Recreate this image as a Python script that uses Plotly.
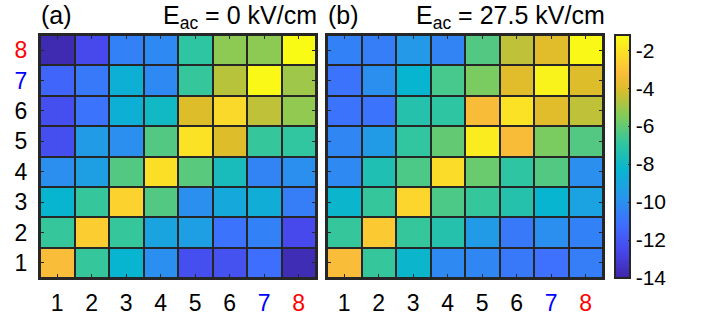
import plotly.graph_objects as go

levels = [1, 2, 3, 4, 5, 6, 7, 8]
tick_text = ["1", "2", "3", "4", "5", "6",
             "<span style='color:blue'>7</span>",
             "<span style='color:red'>8</span>"]

# rows listed from level 1 (bottom) to level 8 (top), columns 1..8
z_a = [
    [-3.2, -6.8, -8.3, -10.0, -12.3, -12.2, -11.2, -13.7],
    [-6.8, -2.7, -6.8, -9.1, -9.3, -11.0, -10.5, -12.5],
    [-8.3, -6.8, -2.5, -6.3, -10.0, -8.9, -8.7, -10.6],
    [-10.0, -9.3, -6.3, -2.1, -6.2, -7.7, -10.4, -10.0],
    [-12.3, -9.5, -10.0, -6.3, -2.0, -4.0, -6.8, -6.9],
    [-12.3, -11.0, -8.6, -8.0, -4.0, -2.3, -4.5, -5.2],
    [-11.5, -10.8, -8.6, -10.2, -6.8, -4.6, -1.3, -5.0],
    [-13.8, -12.5, -10.5, -10.2, -7.0, -5.3, -5.3, -1.2],
]
z_b = [
    [-3.2, -6.8, -8.2, -10.2, -10.3, -10.8, -11.1, -10.6],
    [-6.8, -2.8, -6.8, -7.3, -9.5, -10.8, -10.0, -10.5],
    [-8.2, -6.8, -2.4, -6.4, -6.8, -7.3, -8.3, -9.2],
    [-10.2, -7.5, -6.4, -2.2, -5.9, -7.0, -6.3, -10.0],
    [-10.3, -9.5, -6.9, -6.0, -1.7, -3.3, -5.6, -6.3],
    [-11.0, -11.0, -7.3, -7.0, -3.3, -2.0, -3.9, -4.5],
    [-11.0, -10.0, -8.3, -6.5, -5.6, -3.9, -1.5, -4.0],
    [-10.5, -10.6, -9.6, -10.4, -6.3, -4.5, -3.9, -1.3],
]
cbar_ticks = [-2, -4, -6, -8, -10, -12, -14]
cbar_text = ["-2", "-4", "-6", "-8", "-10", "-12", "-14"]

parula = [
    [0.0, "rgb(62,38,168)"],
    [1/9, "rgb(71,71,235)"],
    [2/9, "rgb(62,111,255)"],
    [3/9, "rgb(39,150,235)"],
    [4/9, "rgb(8,181,208)"],
    [5/9, "rgb(49,198,159)"],
    [6/9, "rgb(129,204,89)"],
    [7/9, "rgb(220,189,41)"],
    [0.84, "rgb(250,188,58)"],
    [8/9, "rgb(252,207,48)"],
    [1.0, "rgb(249,251,21)"],
]
ZMIN, ZMAX = -14, -1.2
FONT = "Liberation Sans, Arial, sans-serif"
DARK = "#262626"

fig = go.Figure()
fig.add_trace(go.Heatmap(x=levels, y=levels, z=z_a, colorscale=parula,
                         zmin=ZMIN, zmax=ZMAX, xgap=2, ygap=2,
                         xaxis="x", yaxis="y", showscale=False))
fig.add_trace(go.Heatmap(x=levels, y=levels, z=z_b, colorscale=parula,
                         zmin=ZMIN, zmax=ZMAX, xgap=2, ygap=2,
                         xaxis="x2", yaxis="y2", showscale=True,
                         colorbar=dict(x=615/706, xanchor="left", xpad=0,
                                       y=1-278/316, yanchor="bottom", ypad=0,
                                       len=(278-35)/316, lenmode="fraction",
                                       thickness=15, thicknessmode="pixels",
                                       outlinecolor=DARK, outlinewidth=2,
                                       tickvals=cbar_ticks, ticktext=cbar_text,
                                       ticks="inside", ticklen=3, tickcolor=DARK,
                                       tickfont=dict(size=21, color="black", family=FONT))))

W, H = 706, 316
ydom = [1-278/H, 1-35/H]
axcommon = dict(showline=True, linecolor=DARK, linewidth=2, mirror="ticks",
                ticks="inside", ticklen=4, tickcolor=DARK, tickwidth=1,
                showgrid=False, zeroline=False, range=[0.5, 8.5],
                tickfont=dict(size=23, color="black", family=FONT))

fig.update_layout(
    width=W, height=H,
    margin=dict(l=0, r=0, t=0, b=0),
    paper_bgcolor="white", plot_bgcolor=DARK,
    xaxis=dict(domain=[40/W, 316/W], anchor="y", tickvals=levels, ticktext=tick_text,
               ticklabelstandoff=3, **axcommon),
    yaxis=dict(domain=ydom, anchor="x", tickvals=levels, ticktext=tick_text,
               ticklabelstandoff=6, **axcommon),
    xaxis2=dict(domain=[327/W, 603/W], anchor="y2", tickvals=levels, ticktext=tick_text,
                ticklabelstandoff=3, **axcommon),
    yaxis2=dict(domain=ydom, anchor="x2", tickvals=levels, showticklabels=False,
                **axcommon),
    showlegend=False,
)

annots = [
    dict(x=40/W, text="(a)", xanchor="left"),
    dict(x=318/W, text="E<sub>ac</sub> = 0 kV/cm", xanchor="right"),
    dict(x=327/W, text="(b)", xanchor="left"),
    dict(x=606/W, text="E<sub>ac</sub> = 27.5 kV/cm", xanchor="right"),
]
for a in annots:
    fig.add_annotation(xref="paper", yref="paper", y=1.0, yanchor="top",
                       showarrow=False, font=dict(size=25, color="black", family=FONT),
                       borderpad=0, **a)

fig.write_html("out.html", config={"displayModeBar": False},
               post_script="document.body.style.margin='0';")
